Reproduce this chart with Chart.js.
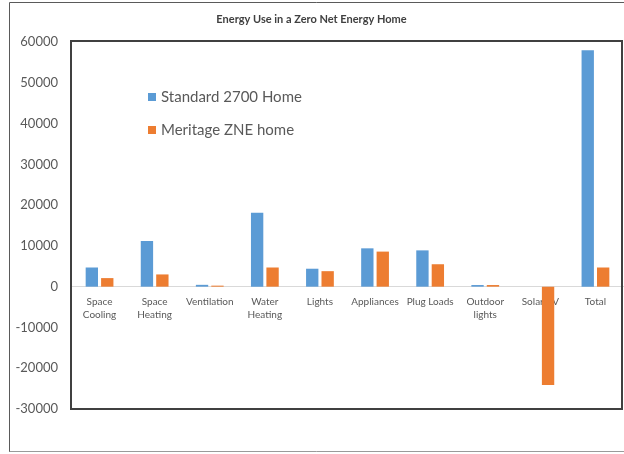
<!DOCTYPE html>
<html>
<head>
<meta charset="utf-8">
<title>Energy Use in a Zero Net Energy Home</title>
<script src="https://cdn.jsdelivr.net/npm/chart.js@4/dist/chart.umd.min.js"></script>
<style>
  html, body { margin: 0; padding: 0; background: #ffffff; }
  #wrap { width: 624px; height: 454px; position: relative; }
</style>
</head>
<body>
<div id="wrap"><canvas id="chart"></canvas></div>
<script>
// End uses (multi-line labels are split the way they wrap under the axis)
const categories = [
  ['Space', 'Cooling'],
  ['Space', 'Heating'],
  'Ventilation',
  ['Water', 'Heating'],
  'Lights',
  'Appliances',
  'Plug Loads',
  ['Outdoor', 'lights'],
  'Solar PV',
  'Total'
];

const seriesNames = ['Standard 2700 Home', 'Meritage ZNE home'];

// Annual energy use per end use
const standardHome = [4700, 11200, 450, 18100, 4400, 9400, 8900, 400, 0, 58000];
const meritageHome = [2100, 3000, 250, 4700, 3800, 8600, 5500, 400, -24100, 4700];

const yTicks = [-30000, -20000, -10000, 0, 10000, 20000, 30000, 40000, 50000, 60000];

const BLUE = '#5B9BD5';
const ORANGE = '#ED7D31';
const TEXT = '#595959';
const FONT = "Lato, 'Open Sans', sans-serif";

// Outer frame and the dark box around the plot area
const framePlugin = {
  id: 'frame',
  beforeDraw(chart) {
    const ctx = chart.ctx;
    ctx.save();
    ctx.lineWidth = 1;
    ctx.strokeStyle = '#5a5a5a';
    ctx.beginPath();
    ctx.moveTo(9.5, 452);
    ctx.lineTo(9.5, 2.5);
    ctx.lineTo(624, 2.5);
    ctx.stroke();
    ctx.strokeStyle = '#9a9a9a';
    ctx.beginPath();
    ctx.moveTo(9.5, 451.5);
    ctx.lineTo(624, 451.5);
    ctx.stroke();
    ctx.restore();
  },
  afterDraw(chart) {
    const ca = chart.chartArea;
    const ctx = chart.ctx;
    ctx.save();
    ctx.lineWidth = 2;
    ctx.strokeStyle = '#404040';
    ctx.strokeRect(ca.left - 1, ca.top - 1, ca.right - ca.left, ca.bottom - ca.top + 1);
    ctx.restore();
  }
};

// Legend drawn inside the plot area, one entry per row
const innerLegendPlugin = {
  id: 'innerLegend',
  afterDraw(chart) {
    const ctx = chart.ctx;
    const x = 148;
    const rows = [97, 130];
    ctx.save();
    ctx.font = '15px ' + FONT;
    ctx.textBaseline = 'middle';
    ctx.textAlign = 'left';
    chart.data.datasets.forEach((ds, i) => {
      const y = rows[i];
      ctx.fillStyle = ds.backgroundColor;
      ctx.fillRect(x, y - 4, 8, 8);
      ctx.fillStyle = TEXT;
      ctx.fillText(ds.label, x + 13, y + 0.5);
    });
    ctx.restore();
  }
};

new Chart(document.getElementById('chart'), {
  type: 'bar',
  data: {
    labels: categories,
    datasets: [
      { label: seriesNames[0], data: standardHome, backgroundColor: BLUE },
      { label: seriesNames[1], data: meritageHome, backgroundColor: ORANGE }
    ]
  },
  options: {
    responsive: true,
    maintainAspectRatio: false,
    animation: false,
    layout: { padding: { left: 0, right: 1, top: 0, bottom: 45 } },
    datasets: {
      bar: { categoryPercentage: 0.56, barPercentage: 0.8 }
    },
    plugins: {
      legend: { display: false },
      tooltip: { enabled: false },
      title: {
        display: true,
        text: 'Energy Use in a Zero Net Energy Home',
        color: '#404040',
        font: { family: FONT, size: 11, weight: 'bold' },
        padding: { top: 13, bottom: 15.8 }
      }
    },
    scales: {
      x: {
        position: { y: 0 },
        grid: { display: false, drawTicks: false },
        border: { display: true, color: '#d9d9d9', width: 1 },
        ticks: {
          color: TEXT,
          font: { family: FONT, size: 10, lineHeight: 1.3 },
          padding: 8.5,
          maxRotation: 0,
          autoSkip: false
        }
      },
      y: {
        min: -30000,
        max: 60000,
        grid: { display: false, drawTicks: false },
        border: { display: false },
        afterBuildTicks(scale) {
          scale.ticks = yTicks.map(v => ({ value: v }));
        },
        afterFit(scale) {
          scale.width = 72;
        },
        ticks: {
          color: TEXT,
          font: { family: FONT, size: 13 },
          padding: 14,
          callback: v => String(v)
        }
      }
    }
  },
  plugins: [framePlugin, innerLegendPlugin]
});
</script>
</body>
</html>
